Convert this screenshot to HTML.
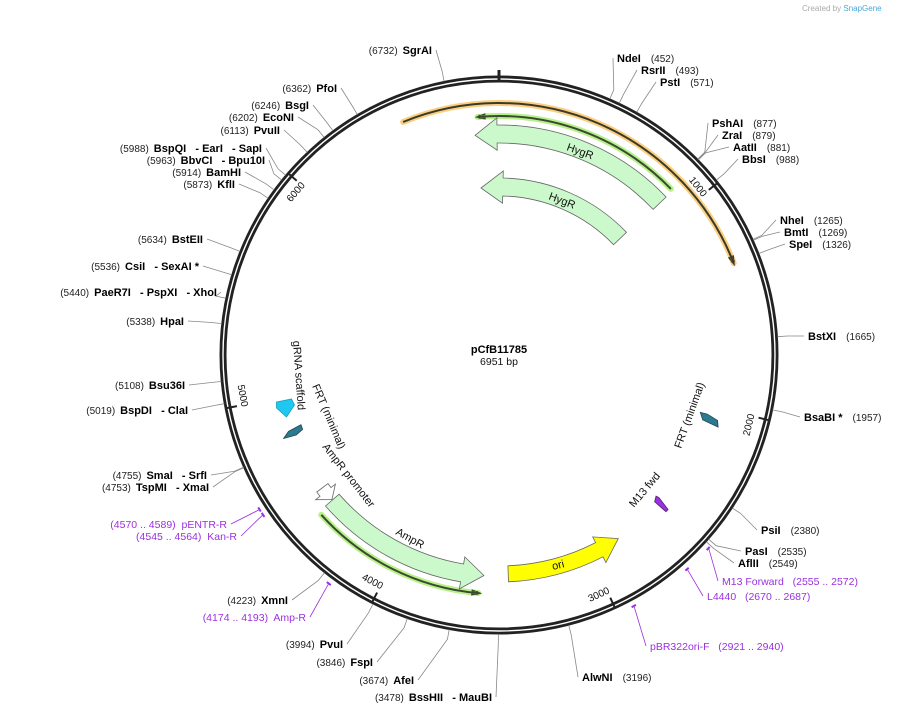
<!DOCTYPE html>
<html><head><meta charset="utf-8"><style>
body{margin:0;background:#fff;}
svg{display:block;font-family:"Liberation Sans",sans-serif;}
.b{font-weight:bold;font-size:11px;fill:#000}
.n{font-size:10px;fill:#222}
.p{font-size:10.5px;fill:#9b30e0}
.f{font-size:11px;fill:#111}
</style></head><body>
<svg id="map" width="899" height="714" viewBox="0 0 899 714" xmlns="http://www.w3.org/2000/svg">
<text x="802" y="11" font-size="8" fill="#aaa">Created by <tspan fill="#4aa8d8">SnapGene</tspan></text>
<g id="backbone"></g>
<g id="feat"></g>
<g id="enz"></g>
<g id="prm"></g>
<text x="499" y="353" text-anchor="middle" class="b">pCfB11785</text>
<text x="499" y="365" text-anchor="middle" font-size="10.5" fill="#111">6951 bp</text>
<text class="f" transform="translate(293,341) rotate(86)">gRNA scaffold</text>
<text class="f" transform="translate(312,386) rotate(67)">FRT (minimal)</text>
<text class="f" transform="translate(322,447) rotate(52)">AmpR promoter</text>
<text class="f" transform="translate(681,449) rotate(-70)">FRT (minimal)</text>
<text class="f" transform="translate(634,508) rotate(-50)">M13 fwd</text>
<text class="f" transform="translate(566,150) rotate(20)">HygR</text>
<text class="f" transform="translate(548,199) rotate(21)">HygR</text>
<text class="f" transform="translate(395,534) rotate(29)">AmpR</text>
<text class="f" transform="translate(553,570) rotate(-14)">ori</text>
</svg>
<script>
const total=6951, cx=499, cy=355, R=276;
const tickValues=[1000,2000,3000,4000,5000,6000];
const enzNames=["SgrAI","NdeI","RsrII","PstI","PshAI","ZraI","AatII","BbsI","NheI","BmtI","SpeI","BstXI","BsaBI *","PsiI","PasI","AflII","AlwNI","BssHII   - MauBI","AfeI","FspI","PvuI","XmnI","SmaI   - SrfI","TspMI   - XmaI","BspDI   - ClaI","Bsu36I","HpaI","PaeR7I   - PspXI   - XhoI","CsiI   - SexAI *","BstEII","KflI","BamHI","BbvCI   - Bpu10I","BspQI   - EarI   - SapI","PvuII","EcoNI","BsgI","PfoI"];
const enzSites=[6732,452,493,571,877,879,881,988,1265,1269,1326,1665,1957,2380,2535,2549,3196,3478,3674,3846,3994,4223,4755,4753,5019,5108,5338,5440,5536,5634,5873,5914,5963,5988,6113,6202,6246,6362];
const enzLayout=[[432,54,-1],[617,62,1],[641,74,1],[660,86,1],[712,127,1],[722,139,1],[733,151,1],[742,163,1],[780,224,1],[784,236,1],[789,248,1],[808,340,1],[804,421,1],[761,534,1],[745,555,1],[738,567,1],[582,681,1],[492,701,-1],[414,684,-1],[373,666,-1],[343,648,-1],[288,604,-1],[207,479,-1],[209,491,-1],[188,414,-1],[185,389,-1],[184,325,-1],[217,296,-1],[199,270,-1],[203,243,-1],[235,188,-1],[241,176,-1],[265,164,-1],[262,152,-1],[280,134,-1],[294,121,-1],[309,109,-1],[337,92,-1]];
const primerNames=["pENTR-R","Kan-R","Amp-R","M13 Forward","L4440","pBR322ori-F"];
const primerStart=[4570,4545,4174,2555,2670,2921];
const primerEnd=[4589,4564,4193,2572,2687,2940];
const primerLayout=[[227,528,-1],[237,540,-1],[306,621,-1],[722,585,1],[707,600,1],[650,650,1]];
// small features: center bp
const smallNames=["grna-scaffold","frt-left","frt-right","m13-fwd"];
const smallCenter=[4944,4818,2066,2560];
const NS="http://www.w3.org/2000/svg";
function ang(bp){return bp/total*2*Math.PI;}
function P(a,r){return [cx+r*Math.sin(a),cy-r*Math.cos(a)];}
function mk(tag,attrs,parent){const e=document.createElementNS(NS,tag);for(const k in attrs)e.setAttribute(k,attrs[k]);parent.appendChild(e);return e;}
function f(p){return p[0].toFixed(1)+","+p[1].toFixed(1);}
function arcD(a1,a2,r){let s=a2-a1;return "M"+f(P(a1,r))+" A"+r+","+r+" 0 "+(s>Math.PI?1:0)+" 1 "+f(P(a2,r));}
function arrowD(s,e,r,w,dir,head){
  let a1=ang(s),a2=ang(e); if(a2<a1)a2+=2*Math.PI;
  const h=head/r, ro=r+w/2, ri=r-w/2, ex=w*0.4;
  if(dir>0){
    const b=a2-h, lg=(b-a1>Math.PI)?1:0;
    return "M"+f(P(a1,ro))+" A"+ro+","+ro+" 0 "+lg+" 1 "+f(P(b,ro))+" L"+f(P(b,ro+ex))+" L"+f(P(a2,r))+" L"+f(P(b,ri-ex))+" L"+f(P(b,ri))+" A"+ri+","+ri+" 0 "+lg+" 0 "+f(P(a1,ri))+" Z";
  } else {
    const b=a1+h, lg=(a2-b>Math.PI)?1:0;
    return "M"+f(P(a1,r))+" L"+f(P(b,ro+ex))+" L"+f(P(b,ro))+" A"+ro+","+ro+" 0 "+lg+" 1 "+f(P(a2,ro))+" L"+f(P(a2,ri))+" A"+ri+","+ri+" 0 "+lg+" 0 "+f(P(b,ri))+" L"+f(P(b,ri-ex))+" Z";
  }
}
const bb=document.getElementById('backbone');
let c1=mk('circle',{cx:cx,cy:cy,r:R,fill:'none',stroke:'#222','stroke-width':7},bb);


let c2=mk('circle',{cx:cx,cy:cy,r:R,fill:'none',stroke:'#fff','stroke-width':1.4},bb);


let z=mk('line',{x1:cx,y1:cy-R+3,x2:cx,y2:cy-R-9,stroke:'#222','stroke-width':3},bb);


tickValues.forEach(v=>{
  const a=ang(v);const p1=P(a,R-9),p2=P(a,R+2);
  const t=mk('line',{x1:p1[0],y1:p1[1],x2:p2[0],y2:p2[1],stroke:'#222','stroke-width':2},bb);
  
  
  const deg=a*180/Math.PI; const bottom=(deg>90&&deg<270); const rot=bottom?deg-180:(deg>270?deg-360:deg);
  const lp=P(a-0.035*(bottom?-1:1),R-16);
  const tx=mk('text',{x:0,y:0,'font-size':10,fill:'#111','text-anchor':'middle',transform:'translate('+f(lp)+') rotate('+rot+')'},bb);
  tx.setAttribute('dominant-baseline','middle');
  tx.textContent=v;
  
  
});
const fg=document.getElementById('feat');
function lineArc(s,e,r,name,glow,color){
  let a1=ang(s),a2=ang(e); if(a2<a1)a2+=2*Math.PI;
  const g=mk('path',{d:arcD(a1,a2,r),fill:'none',stroke:glow,'stroke-width':6,'stroke-linecap':'round'},fg);
  
  
  const l=mk('path',{d:arcD(a1,a2,r),fill:'none',stroke:color,'stroke-width':2},fg);
  
  
}
function feat(s,e,r,w,dir,head,fill,stroke,name){
  const p=mk('path',{d:arrowD(s,e,r,w,dir,head),fill:fill,stroke:stroke,'stroke-width':0.8},fg);
  
  
}
lineArc(6519,1325,252,'orange-region','#fbcf80','#3a3a2a');
feat(1318,1334,252,3,1,9,'#3a3a2a','#3a3a2a','orange-region-head');
lineArc(6852,888,239,'hygr-sequence-line','#b8f08a','#3a4a30');
feat(6845,6858,239,3,-1,9,'#3a4a30','#3a4a30','hygr-line-head');
feat(6831,900,221,18,-1,22,'#ccf9cc','#666','hygr-feature-1');
feat(6832,890,168,18,-1,22,'#ccf9cc','#666','hygr-feature-2');
lineArc(3572,4403,239,'ampr-sequence-line','#b8f08a','#3a4a30');
feat(3560,3575,239,3,-1,9,'#3a4a30','#3a4a30','ampr-line-head');
feat(3551,4421,221,18,-1,22,'#ccf9cc','#666','ampr-feature');
feat(4424,4500,221,14,-1,10,'#fff','#666','ampr-promoter');
feat(2838,3429,219,16,-1,22,'#ffff00','#666','ori-feature');
// small tilted features
const smallShapes=[
 {pts:"-9,-6 6,-9 9,-3 1,9 -9,0",fill:'#1ec8f0',stroke:'#1a9cc0',rot:0},
 {pts:"-11,3 -4,-2 10,-4 10,1 2,4",fill:'#2a7a90',stroke:'#245',rot:-20},
 {pts:"-11,-3 -4,-4 8,-2 11,4 -6,3",fill:'#2a7a90',stroke:'#245',rot:22},
 {pts:"-9,-2 -6,-3 9,-1 9,2 -6,3",fill:'#9b30e0',stroke:'#502070',rot:45}
];
smallNames.forEach((nm,i)=>{
  const p=P(ang(smallCenter[i]),220);const s=smallShapes[i];
  const el=mk('polygon',{points:s.pts,fill:s.fill,stroke:s.stroke,'stroke-width':0.8,transform:'translate('+f(p)+') rotate('+s.rot+')'},fg);
  
  
});
const eg=document.getElementById('enz');
enzNames.forEach((nm,i)=>{
  const [x,y,side]=enzLayout[i];const a=ang(enzSites[i]);
  const p1=P(a,R+3),p2=P(a,R+13);
  const ex=side>0?x-4:x+4;
  const l=mk('polyline',{points:f(p1)+" "+f(p2)+" "+ex+","+(y-4),fill:'none',stroke:'#888','stroke-width':0.8},eg);
  
  
  const t=mk('text',{x:x,y:y,'text-anchor':side>0?'start':'end'},eg);
  t.setAttribute('style','white-space:pre');
  
  
  const num='('+enzSites[i]+')';
  if(side>0){
    const a1=mk('tspan',{class:'b'},t);a1.textContent=nm;
    const a2=mk('tspan',{class:'n',dx:10},t);a2.textContent=num;
  } else {
    const a2=mk('tspan',{class:'n'},t);a2.textContent=num;
    const a1=mk('tspan',{class:'b',dx:5},t);a1.textContent=nm;
  }
});
const pg=document.getElementById('prm');
primerNames.forEach((nm,i)=>{
  const a1=ang(primerStart[i]),a2=ang(primerEnd[i]);const r=R+9;
  const m=mk('path',{d:arcD(a1,a2,r),fill:'none',stroke:'#9b30e0','stroke-width':2},pg);
  
  
  const [x,y,side]=primerLayout[i];
  const am=(a1+a2)/2;const p=P(am,r+1);
  const l=mk('line',{x1:p[0],y1:p[1],x2:side>0?x-4:x+4,y2:y-4,stroke:'#9b30e0','stroke-width':0.8},pg);
  
  
  const t=mk('text',{x:x,y:y,'text-anchor':side>0?'start':'end',class:'p'},pg);
  t.setAttribute('style','white-space:pre');
  t.textContent=side>0?nm+'   ('+primerStart[i]+' .. '+primerEnd[i]+')':'('+primerStart[i]+' .. '+primerEnd[i]+')  '+nm;
  
  
});
</script>
</body></html>
